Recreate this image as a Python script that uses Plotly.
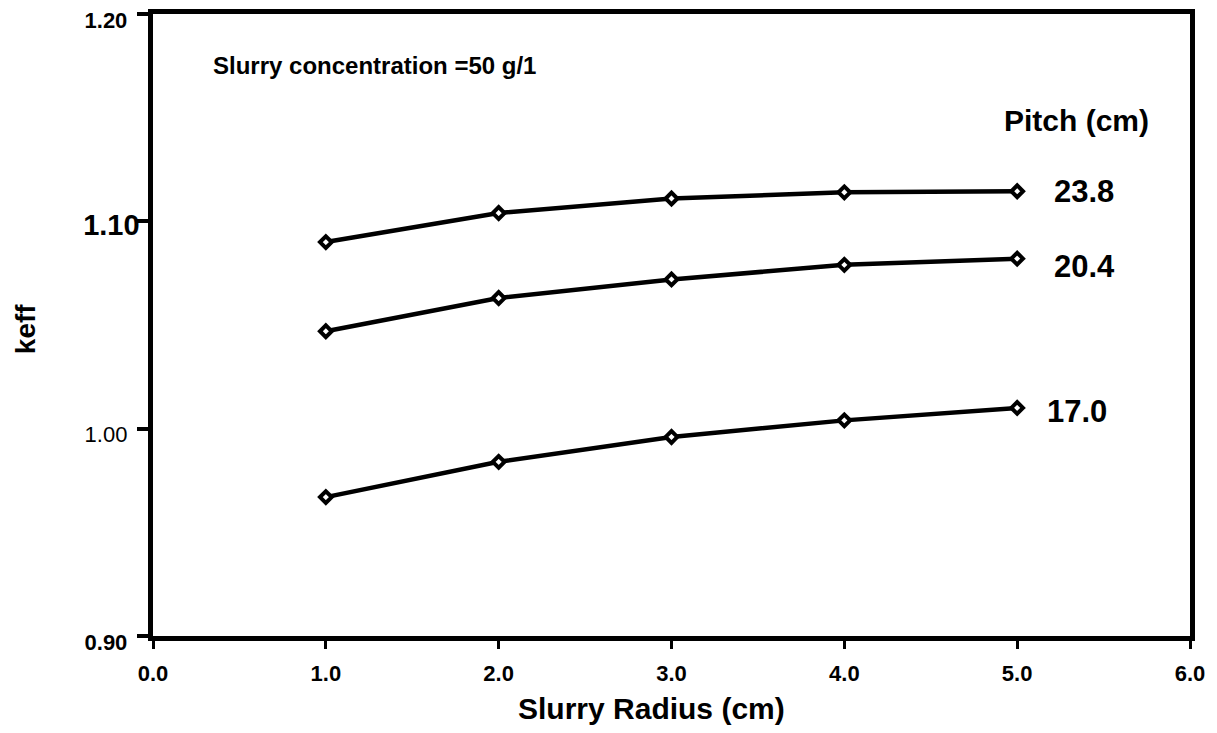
import plotly.graph_objects as go

radius = [1.0, 2.0, 3.0, 4.0, 5.0]
keff_238 = [1.090, 1.104, 1.111, 1.114, 1.1145]
keff_204 = [1.047, 1.063, 1.072, 1.079, 1.082]
keff_170 = [0.967, 0.984, 0.996, 1.004, 1.010]
pitch_labels = ["23.8", "20.4", "17.0"]

x_ticks = [0.0, 1.0, 2.0, 3.0, 4.0, 5.0, 6.0]
x_ticktext = ["0.0", "1.0", "2.0", "3.0", "4.0", "5.0", "6.0"]
y_ticks = [0.90, 1.00, 1.10, 1.20]
y_ticktext = ["<b>0.90</b>&nbsp;&nbsp;", "1.00&nbsp;&nbsp;",
              "<b><span style='font-size:29px'>1.10</span></b>",
              "<b>1.20</b>&nbsp;&nbsp;"]

FONT = "Liberation Sans, Arial, sans-serif"

fig = go.Figure()
for ys in (keff_238, keff_204, keff_170):
    fig.add_trace(go.Scatter(
        x=radius, y=ys, mode="lines+markers",
        line=dict(color="black", width=4.5),
        marker=dict(symbol="diamond", size=9, color="white",
                    line=dict(color="black", width=4)),
        showlegend=False,
    ))

# series labels, placed just right of each curve's last point
label_dx = [0.20, 0.20, 0.16]
label_dy = [0.0, -0.004, -0.0015]
for ys, t, dx, dy in zip((keff_238, keff_204, keff_170), pitch_labels, label_dx, label_dy):
    fig.add_annotation(x=radius[-1] + dx, y=ys[-1] + dy, text=t, showarrow=False,
                       xanchor="left", yanchor="middle",
                       font=dict(family=FONT, size=31, color="black", weight="bold"))

fig.add_annotation(x=4.91, y=1.1485, text="Pitch (cm)", showarrow=False,
                   xanchor="left", yanchor="middle",
                   font=dict(family=FONT, size=30, color="black", weight="bold"))
fig.add_annotation(x=0.335, y=1.175, text="Slurry concentration =50 g/1",
                   showarrow=False, xanchor="left", yanchor="middle",
                   font=dict(family=FONT, size=24, color="black", weight="bold"))

# axis titles
fig.add_annotation(x=0.5, xref="paper", y=-0.112, yref="paper",
                   text="Slurry Radius (cm)", showarrow=False,
                   xanchor="center", yanchor="middle", xshift=-20, yshift=-3,
                   font=dict(family=FONT, size=30, color="black", weight="bold"))
fig.add_annotation(x=-0.123, xref="paper", y=0.494, yref="paper",
                   text="keff", showarrow=False, textangle=-90,
                   xanchor="center", yanchor="middle",
                   font=dict(family=FONT, size=28, color="black", weight="bold"))

fig.update_layout(
    width=1209, height=725,
    margin=dict(l=145, r=27, t=6, b=97),
    paper_bgcolor="white", plot_bgcolor="white",
    font=dict(family=FONT, color="black"),
)
fig.update_xaxes(
    range=[0, 6], tickvals=x_ticks, ticktext=x_ticktext,
    showline=True, linewidth=5, linecolor="black", mirror=True,
    ticks="outside", ticklen=8, tickwidth=3, tickcolor="black",
    showgrid=False, zeroline=False, automargin=False,
    tickfont=dict(family=FONT, size=22, color="black", weight="bold"),
    ticklabelstandoff=6, ticklabeloverflow="allow",
)
fig.update_yaxes(
    range=[0.9, 1.2], tickvals=y_ticks, ticktext=y_ticktext,
    showline=True, linewidth=5, linecolor="black", mirror=True,
    ticks="outside", ticklen=11, tickwidth=4, tickcolor="black",
    showgrid=False, zeroline=False, automargin=False,
    tickfont=dict(family=FONT, size=22, color="black"),
    ticklabelstandoff=-7, ticklabelshift=6, ticklabeloverflow="allow",
)

fig.write_html("out.html")
